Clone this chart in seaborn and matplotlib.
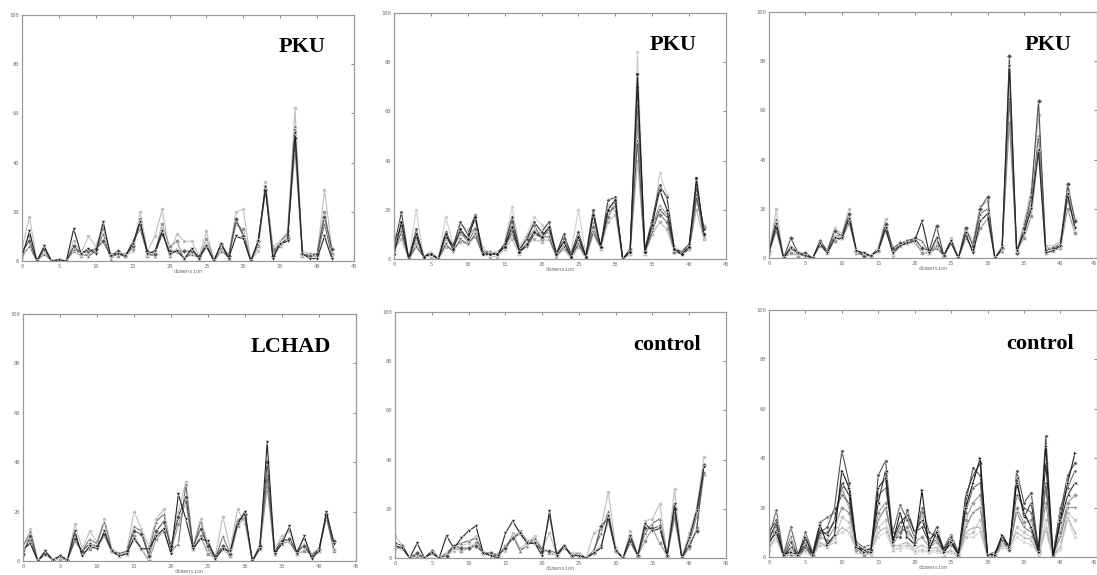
import seaborn as sns
import matplotlib.pyplot as plt
import numpy as np
import pandas as pd

# 43 feature dimensions per sample profile
dims = list(range(43))

# panel 1 - PKU
pku1_a = [5, 18, 0, 4, 0, 0.5, 0, 8, 3, 10, 6, 14, 2, 3, 2, 4, 20, 4, 10, 21, 3, 11, 8, 8, 2, 12, 0, 6, 2, 20, 21, 0, 4, 32, 6, 8, 12, 62, 4, 3, 2, 29, 5]
pku1_b = [3, 10, 0, 5, 0, 0.5, 0, 4, 2, 3, 5, 13, 3, 2, 3, 5, 17, 2, 3, 15, 6, 8, 0, 5, 1, 9, 1, 5, 1, 15, 13, 0, 6, 28, 5, 6, 10, 45, 2, 3, 3, 20, 3]
pku1_c = [2, 6, 0, 3, 0, 0.5, 0, 5, 3, 2, 4, 11, 1, 4, 2, 8, 13, 3, 2, 13, 2, 5, 1, 3, 1, 7, 0, 4, 2, 16, 11, 0, 7, 31, 3, 8, 11, 55, 3, 2, 2, 15, 2]
pku1_d = [4, 8, 0, 5, 0, 0.5, 0, 6, 3, 4, 5, 8, 2, 4, 2, 6, 15, 4, 3, 11, 4, 4, 4, 4, 2, 6, 0, 7, 2, 17, 10, 0, 8, 29, 2, 7, 9, 50, 3, 2, 3, 18, 5]
pku1_e = [2, 12, 0, 6, 0, 0.5, 0, 13, 3, 5, 3, 16, 2, 3, 2, 7, 16, 3, 4, 12, 3, 4, 1, 5, 1, 6, 0, 7, 1, 10, 9, 0, 8, 30, 1, 7, 8, 52, 3, 1, 1, 10, 1]

# panel 2 - PKU
pku2_a = [10, 10, 0, 20, 1, 2, 0, 17, 6, 14, 12, 15, 5, 2, 2, 7, 21, 5, 10, 17, 14, 10, 3, 9, 3, 20, 2, 20, 4, 22, 20, 0, 2, 84, 2, 12, 35, 26, 5, 3, 6, 25, 14]
pku2_b = [4, 8, 0, 6, 1, 1, 0, 5, 4, 7, 6, 9, 2, 1, 1, 4, 8, 2, 6, 8, 7, 8, 1, 4, 0, 5, 0, 10, 4, 15, 18, 0, 2, 40, 2, 10, 15, 12, 3, 2, 4, 20, 8]
pku2_c = [8, 12, 0, 8, 1, 3, 0, 8, 5, 10, 9, 13, 4, 2, 3, 5, 10, 4, 8, 12, 10, 11, 3, 6, 1, 7, 1, 15, 6, 18, 22, 0, 3, 55, 3, 13, 22, 18, 4, 2, 5, 28, 11]
pku2_d = [6, 14, 0, 9, 1, 2, 0, 9, 6, 11, 7, 12, 3, 3, 2, 6, 15, 3, 9, 14, 8, 12, 2, 8, 2, 8, 1, 13, 5, 17, 23, 0, 4, 62, 3, 15, 18, 15, 3, 2, 4, 24, 13]
pku2_e = [3, 11, 0, 5, 1, 2, 0, 6, 3, 8, 6, 10, 2, 2, 2, 5, 11, 3, 5, 10, 9, 9, 1, 5, 1, 6, 1, 11, 5, 19, 21, 0, 3, 48, 3, 11, 20, 17, 4, 2, 4, 26, 9]
pku2_f = [5, 19, 0, 12, 1, 2, 0, 11, 5, 15, 10, 18, 3, 2, 2, 6, 17, 4, 8, 15, 11, 15, 2, 10, 2, 11, 1, 20, 5, 24, 25, 0, 4, 70, 4, 16, 30, 25, 4, 3, 6, 30, 12]
pku2_g = [2, 15, 0, 10, 1, 2, 0, 10, 4, 12, 8, 17, 2, 2, 2, 5, 13, 3, 6, 11, 9, 13, 2, 7, 1, 9, 1, 18, 5, 20, 24, 0, 3, 75, 3, 14, 28, 20, 4, 2, 5, 33, 10]

# panel 3 - PKU
pku3_a = [2, 20, 0, 3, 1, 2, 0, 5, 3, 12, 10, 20, 2, 2, 1, 4, 16, 1, 5, 6, 6, 3, 2, 6, 1, 8, 0, 12, 7, 21, 23, 0, 5, 70, 3, 14, 28, 58, 5, 5, 7, 28, 16]
pku3_b = [2, 11, 0, 2, 1, 1, 0, 5, 2, 7, 8, 14, 3, 2, 1, 3, 11, 3, 5, 7, 7, 2, 2, 5, 1, 6, 0, 9, 3, 12, 16, 0, 4, 55, 3, 8, 17, 43, 2, 3, 4, 20, 10]
pku3_c = [3, 16, 0, 5, 2, 1, 0, 6, 3, 9, 9, 17, 2, 1, 1, 4, 13, 2, 6, 6, 8, 7, 2, 4, 1, 7, 0, 8, 4, 18, 20, 0, 3, 65, 2, 11, 22, 50, 4, 4, 6, 24, 13]
pku3_d = [3, 12, 0, 8, 2, 2, 0, 7, 3, 11, 9, 18, 3, 1, 1, 3, 14, 4, 6, 7, 8, 4, 3, 13, 1, 6, 0, 12, 5, 20, 25, 0, 4, 82, 2, 12, 25, 64, 3, 4, 5, 30, 15]
pku3_e = [2, 14, 0, 4, 2, 1, 0, 6, 2, 8, 8, 16, 3, 2, 1, 3, 12, 2, 5, 6, 7, 15, 2, 8, 1, 7, 0, 10, 2, 15, 18, 0, 4, 78, 3, 10, 20, 44, 2, 3, 5, 26, 12]

# panel 4 - LCHAD
lchad_a = [2, 13, 0, 4, 0.5, 2, 0.5, 15, 5, 12, 8, 17, 5, 3, 4, 20, 13, 6, 17, 21, 6, 20, 32, 6, 17, 7, 2, 18, 5, 21, 15, 0, 7, 32, 5, 10, 12, 4, 9, 3, 5, 18, 5]
lchad_b = [4, 8, 0, 3, 0.5, 1, 0.5, 10, 3, 5, 6, 10, 4, 2, 3, 10, 5, 0, 9, 12, 4, 15, 24, 5, 10, 3, 1, 5, 2, 14, 18, 0, 5, 30, 3, 7, 8, 3, 4, 3, 4, 18, 4]
lchad_c = [6, 12, 0, 4, 0.5, 2, 0.5, 8, 4, 9, 7, 16, 4, 2, 3, 14, 12, 3, 16, 19, 4, 7, 31, 5, 16, 5, 1, 10, 3, 17, 17, 0, 6, 35, 3, 9, 8, 3, 7, 2, 4, 18, 5]
lchad_d = [3, 10, 0, 3, 0.5, 2, 0.5, 9, 4, 7, 6, 11, 4, 3, 4, 12, 11, 2, 12, 16, 6, 18, 26, 6, 13, 6, 2, 6, 3, 16, 19, 0, 6, 40, 4, 8, 9, 4, 6, 2, 5, 19, 8]
lchad_e = [5, 7, 0, 4, 0.5, 2, 0.5, 12, 2, 6, 5, 12, 4, 2, 3, 9, 5, 5, 10, 13, 3, 27, 17, 5, 9, 8, 1, 5, 4, 15, 20, 0, 5, 48, 3, 7, 14, 3, 10, 1, 4, 20, 7]

# panel 5 - control
ctrl1_a = [9, 5, 0, 1, 0, 2, 0, 1, 3, 5, 6, 9, 2, 1, 2, 3, 10, 4, 6, 9, 4, 10, 1, 4, 2, 2, 0, 10, 12, 27, 4, 0, 11, 1, 15, 16, 22, 1, 28, 0, 10, 20, 41]
ctrl1_b = [5, 4, 0, 2, 0, 2, 0, 1, 4, 3, 4, 6, 2, 2, 1, 5, 8, 11, 7, 7, 4, 2, 1, 4, 1, 1, 0, 2, 5, 15, 3, 0, 6, 1, 7, 12, 6, 1, 16, 0, 4, 12, 34]
ctrl1_c = [4, 4, 0, 1, 0, 2, 0, 2, 5, 6, 7, 8, 2, 1, 1, 4, 9, 3, 5, 8, 3, 17, 1, 5, 1, 2, 0, 3, 10, 19, 3, 0, 8, 1, 10, 14, 16, 1, 18, 0, 6, 17, 35]
ctrl1_d = [6, 5, 0, 2, 0, 3, 0, 1, 5, 4, 4, 5, 2, 2, 1, 4, 8, 10, 6, 6, 3, 3, 2, 5, 1, 1, 0, 2, 13, 16, 3, 0, 7, 1, 12, 12, 13, 1, 20, 0, 5, 11, 38]
ctrl1_e = [5, 4, 0, 6, 0, 2, 0, 9, 4, 8, 11, 13, 2, 1, 0, 10, 15, 10, 6, 6, 1, 19, 1, 5, 1, 1, 0, 2, 4, 17, 3, 0, 9, 1, 14, 11, 12, 1, 22, 0, 8, 19, 37]

# panel 6 - control
ctrl2_a = [4, 7, 0, 1, 0, 2, 0, 6, 5, 8, 10, 12, 2, 1, 2, 8, 10, 3, 3, 4, 2, 2, 2, 2, 1, 2, 0, 8, 8, 10, 0, 0, 4, 3, 8, 6, 5, 1, 10, 0, 3, 15, 8]
ctrl2_b = [3, 9, 0, 2, 0, 3, 0, 5, 4, 6, 16, 14, 2, 1, 1, 12, 15, 3, 4, 5, 2, 3, 2, 3, 1, 2, 0, 8, 10, 15, 0, 0, 4, 3, 12, 10, 8, 1, 15, 0, 4, 18, 15]
ctrl2_c = [4, 8, 0, 3, 1, 3, 1, 6, 4, 8, 12, 10, 3, 2, 2, 10, 12, 4, 5, 6, 3, 5, 3, 4, 1, 3, 0, 10, 12, 12, 0, 0, 5, 4, 10, 8, 7, 1, 12, 0, 5, 16, 10]
ctrl2_d = [5, 12, 0, 1, 0, 6, 0, 8, 7, 12, 20, 18, 3, 1, 2, 18, 22, 5, 10, 12, 6, 8, 4, 6, 2, 5, 1, 15, 22, 25, 0, 0, 6, 3, 20, 14, 15, 2, 22, 0, 10, 22, 25]
ctrl2_e = [9, 11, 1, 8, 0, 7, 1, 9, 10, 14, 28, 20, 5, 2, 4, 15, 20, 6, 12, 10, 7, 18, 5, 7, 2, 6, 1, 12, 18, 20, 0, 1, 6, 4, 18, 12, 10, 2, 28, 1, 8, 20, 20]
ctrl2_f = [8, 19, 1, 12, 1, 10, 2, 14, 16, 18, 25, 22, 6, 4, 5, 25, 28, 10, 21, 15, 8, 20, 10, 8, 4, 9, 2, 18, 28, 30, 1, 2, 7, 5, 25, 20, 18, 3, 30, 1, 20, 28, 35]
ctrl2_g = [10, 15, 0, 6, 0, 4, 0, 10, 12, 20, 43, 30, 5, 3, 3, 33, 39, 8, 8, 19, 10, 12, 6, 12, 3, 8, 1, 22, 36, 33, 1, 1, 8, 3, 35, 22, 26, 3, 49, 1, 18, 33, 38]
ctrl2_h = [7, 14, 0, 4, 1, 5, 1, 11, 9, 15, 30, 25, 4, 3, 3, 22, 35, 7, 14, 17, 10, 15, 7, 10, 3, 7, 1, 25, 33, 38, 1, 1, 8, 4, 32, 16, 22, 2, 38, 0, 14, 25, 30]
ctrl2_i = [6, 10, 1, 2, 1, 8, 1, 13, 5, 9, 35, 28, 4, 2, 2, 28, 32, 6, 18, 8, 5, 27, 3, 10, 2, 6, 1, 20, 30, 40, 1, 1, 9, 4, 30, 18, 12, 2, 45, 0, 15, 30, 42]

panel_labels = ["PKU", "PKU", "PKU", "LCHAD", "control", "control"]
panel_series = [
    [pku1_a, pku1_b, pku1_c, pku1_d, pku1_e],
    [pku2_a, pku2_b, pku2_c, pku2_d, pku2_e, pku2_f, pku2_g],
    [pku3_a, pku3_b, pku3_c, pku3_d, pku3_e],
    [lchad_a, lchad_b, lchad_c, lchad_d, lchad_e],
    [ctrl1_a, ctrl1_b, ctrl1_c, ctrl1_d, ctrl1_e],
    [ctrl2_a, ctrl2_b, ctrl2_c, ctrl2_d, ctrl2_e, ctrl2_f, ctrl2_g, ctrl2_h, ctrl2_i],
]

# axes rectangles (figure fraction) and label anchor (axes fraction)
axes_rects = [
    [0.0201, 0.5461, 0.3026, 0.4278],
    [0.3592, 0.5496, 0.3026, 0.4278],
    [0.7010, 0.5513, 0.2988, 0.4278],
    [0.0210, 0.0243, 0.3035, 0.4296],
    [0.3601, 0.0296, 0.3017, 0.4278],
    [0.7010, 0.0313, 0.2988, 0.4296],
]
label_xy = [(0.913, 0.850), (0.910, 0.850), (0.924, 0.846),
            (0.925, 0.846), (0.924, 0.846), (0.930, 0.842)]
clipped_right = [False, False, True, False, False, True]

marker_list = ['o', 's', '^', 'D', 'v', 'p', 'h', '<', '>']

sns.set_theme(style='white')
plt.rcParams['font.family'] = ['DejaVu Sans']

fig = plt.figure(figsize=(10.97, 5.75), dpi=100)
fig.patch.set_facecolor('white')


def draw_panel(ax, label, series, txt_xy, at_edge):
    n = len(series)
    names = ['s%d' % k for k in range(n)]
    df = pd.DataFrame({
        'dimension': dims * n,
        'value': np.concatenate([np.asarray(s, dtype=float) for s in series]),
        'series': np.repeat(names, len(dims)),
    })
    greys = sns.color_palette('Greys', n + 2)[2:]
    sns.lineplot(data=df, x='dimension', y='value', hue='series', style='series',
                 palette=greys, markers=marker_list[:n], dashes=False,
                 linewidth=0.8, markersize=2.8, markeredgewidth=0.4,
                 legend=False, ax=ax)
    ax.set_xlim(0, 45)
    ax.set_ylim(0, 100)
    ax.set_xticks(range(0, 46, 5))
    ax.set_yticks(range(0, 101, 20))
    ax.tick_params(direction='in', length=2.5, width=0.6, top=True, right=True,
                   labelsize=4, colors='#777777', pad=2)
    for lbl in ax.get_xticklabels() + ax.get_yticklabels():
        lbl.set_family('DejaVu Sans Mono')
    if at_edge:
        ax.get_xticklabels()[-1].set_horizontalalignment('right')
    for sp in ax.spines.values():
        sp.set_color('#9a9a9a')
        sp.set_linewidth(0.9)
    ax.set_xlabel('dimension', fontsize=4, color='#777777', labelpad=0.5,
                  family='DejaVu Sans Mono')
    ax.set_ylabel('')
    ax.text(txt_xy[0], txt_xy[1], label, transform=ax.transAxes, ha='right',
            va='baseline', fontsize=16, fontweight='bold',
            family=['Liberation Serif', 'DejaVu Serif'], color='black')


for rect, label, series, txy, edge in zip(axes_rects, panel_labels, panel_series,
                                          label_xy, clipped_right):
    ax = fig.add_axes(rect)
    draw_panel(ax, label, series, txy, edge)

fig.savefig('out.png', dpi=100, facecolor='white')
